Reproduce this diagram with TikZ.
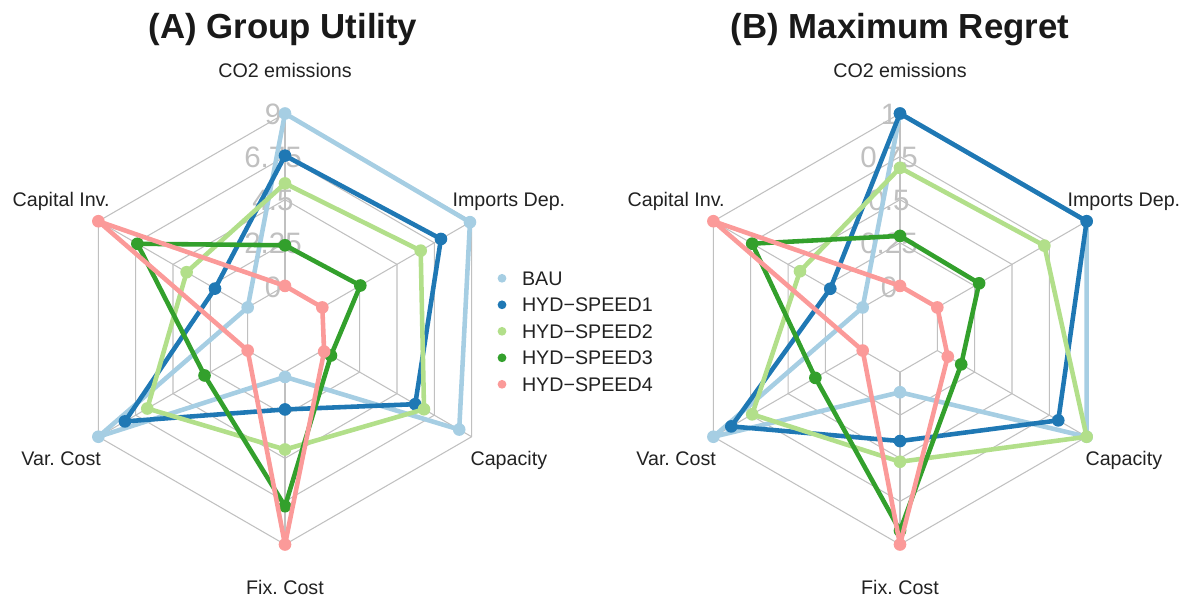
\documentclass[tikz,border=0pt]{standalone}
\usepackage{fontspec}
\setmainfont{Liberation Sans}
\usetikzlibrary{positioning}

\definecolor{bau}{HTML}{A6CEE3}
\definecolor{speedone}{HTML}{1F78B4}
\definecolor{speedtwo}{HTML}{B2DF8A}
\definecolor{speedthree}{HTML}{33A02C}
\definecolor{speedfour}{HTML}{FB9A99}
\definecolor{gridgray}{RGB}{192,192,192}
\definecolor{textgray}{RGB}{34,34,34}

\begin{document}
\begin{tikzpicture}[
    x=0.02cm, y=0.02cm,
    % Styles
    gridline/.style={draw=gridgray, line width=0.6pt},
    scalelabel/.style={text=gridgray, font=\fontsize{16.8}{17}\selectfont, inner sep=0pt},
    axislabel/.style={text=textgray, font=\fontsize{11.2}{12}\selectfont\frenchspacing, inner sep=0pt, text depth=0pt},
    charttitle/.style={text=black!90, font=\bfseries\fontsize{19.8}{22}\selectfont, inner sep=0pt},
    trace/.style={line width=2.6pt, line join=round},
    ptdot/.style={circle, inner sep=0pt, minimum size=7.2pt},
    legdot/.style={circle, inner sep=0pt, minimum size=5pt},
    legtext/.style={axislabel},
]
    \useasboundingbox (0,0) rectangle (1187,602);

    % Titles
    \node[charttitle, anchor=base] (title-A) at (283,563.7) {(A) Group Utility};
    \node[charttitle, anchor=base] (title-B) at (900,563.7) {(B) Maximum Regret};

    % (A) Group Utility
    \begin{scope}[shift={(285,273)}]
        \foreach \k in {1,...,5}
            \draw[gridline] (90:{\k*43.1}) -- (150:{\k*43.1}) -- (210:{\k*43.1}) -- (270:{\k*43.1}) -- (330:{\k*43.1}) -- (30:{\k*43.1}) -- cycle;
        \foreach \a in {30,90,...,330}
            \draw[gridline] (\a:43.1) -- (\a:215.5);
        \foreach \lab [count=\k] in {0,2.25,4.5,6.75,9}
            \node[scalelabel] (A-scale-\k) at (-12,{\k*43.1-1}) {\lab};
        \foreach \lab/\a/\nm in {CO2 emissions/90/co2, Capital Inv./150/capinv, Var. Cost/210/varcost, Fix. Cost/270/fixcost, Capacity/330/capacity, Imports Dep./30/imports}
            \node[axislabel] (A-\nm) at (\a:258.5) {\lab};
        \foreach \nm/\vals in {bau/{9,0,9,0.25,8.25,8.9}, speedone/{6.8,1.97,7.4,1.95,5.6,7.15}, speedtwo/{5.35,3.68,6.05,4.04,6.13,5.93}, speedthree/{2.12,6.65,2.6,7.0,0.52,2.29}, speedfour/{0,9,0,9,0.11,0}} {
            \foreach \v [count=\i] in \vals
                \coordinate (A-\nm-\i) at ({30+60*\i}:{215.5*(0.2+0.8*\v/9)});
            \draw[trace, draw=\nm] (A-\nm-1) -- (A-\nm-2) -- (A-\nm-3) -- (A-\nm-4) -- (A-\nm-5) -- (A-\nm-6) -- cycle;
            \foreach \i in {1,...,6}
                \node[ptdot, fill=\nm] (A-\nm-pt-\i) at (A-\nm-\i) {};
        }
    \end{scope}

    % (B) Maximum Regret
    \begin{scope}[shift={(900,273)}]
        \foreach \k in {1,...,5}
            \draw[gridline] (90:{\k*43.1}) -- (150:{\k*43.1}) -- (210:{\k*43.1}) -- (270:{\k*43.1}) -- (330:{\k*43.1}) -- (30:{\k*43.1}) -- cycle;
        \foreach \a in {30,90,...,330}
            \draw[gridline] (\a:43.1) -- (\a:215.5);
        \foreach \lab [count=\k] in {0,0.25,0.5,0.75,1}
            \node[scalelabel] (B-scale-\k) at (-11,{\k*43.1-1}) {\lab};
        \foreach \lab/\a/\nm in {CO2 emissions/90/co2, Capital Inv./150/capinv, Var. Cost/210/varcost, Fix. Cost/270/fixcost, Capacity/330/capacity, Imports Dep./30/imports}
            \node[axislabel] (B-\nm) at (\a:258.5) {\lab};
        \foreach \nm/\vals in {bau/{1,0,1,0.117,1,1}, speedone/{1,0.217,0.88,0.40,0.81,1}, speedtwo/{0.685,0.42,0.74,0.52,1,0.717}, speedthree/{0.29,0.74,0.317,0.92,0.16,0.28}, speedfour/{0,1,0,1,0.07,0}} {
            \foreach \v [count=\i] in \vals
                \coordinate (B-\nm-\i) at ({30+60*\i}:{215.5*(0.2+0.8*\v)});
            \draw[trace, draw=\nm] (B-\nm-1) -- (B-\nm-2) -- (B-\nm-3) -- (B-\nm-4) -- (B-\nm-5) -- (B-\nm-6) -- cycle;
            \foreach \i in {1,...,6}
                \node[ptdot, fill=\nm] (B-\nm-pt-\i) at (B-\nm-\i) {};
        }
    \end{scope}

    % Legend
    \foreach \nm/\lab [count=\i] in {bau/BAU, speedone/HYD−SPEED1, speedtwo/HYD−SPEED2, speedthree/HYD−SPEED3, speedfour/HYD−SPEED4} {
        \node[legdot, fill=\nm] (leg-\nm) at (502,{323.7-26.5*(\i-1)}) {};
        \node[legtext, right=8.5pt of leg-\nm] (leg-\nm-text) {\lab};
    }

\end{tikzpicture}
\end{document}
